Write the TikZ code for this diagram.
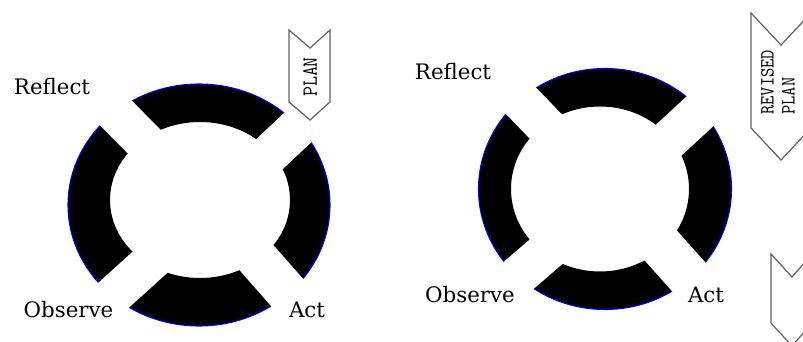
\documentclass[tikz,border=0pt]{standalone}
\usepackage{fontspec}
\setmainfont{DejaVu Serif}
\usetikzlibrary{positioning}
\newcommand\chevtext[1]{\scalebox{1}[1.12]{#1}}

\begin{document}
\begin{tikzpicture}[x=0.75pt,y=-0.75pt,
  gap/.style={white,line width=0.75*#1},
  lbl/.style={inner sep=0,anchor=base,font=\fontsize{16}{18}\selectfont},
  chev/.style={draw=black!62,fill=white,line width=0.9pt},
  chevtxt/.style={inner sep=0,rotate=90,font=\ttfamily\fontsize{14.5}{14}\selectfont}]
\useasboundingbox (0,0) rectangle (803,342);
% first cycle
\coordinate (outL) at (199,205);
\coordinate (inL) at (200,200);
\fill[even odd rule] (outL) ellipse[x radius=131,y radius=121] (inL) ellipse[x radius=90,y radius=78];
\draw[blue,line width=0.8] (outL) ellipse[x radius=131,y radius=121];
% second cycle
\coordinate (outR) at (605,189);
\coordinate (inR) at (600,189);
\fill[even odd rule] (outR) ellipse[x radius=126.5,y radius=120.5] (inR) ellipse[x radius=89,y radius=82.5];
\draw[blue,line width=0.8] (outR) ellipse[x radius=126.5,y radius=120.5];
% cuts between the four arcs
\foreach \ax/\ay/\bx/\by/\w in {172.3/170.1/106.2/103.2/40, 239.6/182.1/308.3/117.7/40,
    173.8/240.7/103.6/304.3/39, 234.6/232.7/296.6/303.3/42,
    573.6/155.3/507.4/86.7/40, 640.3/166.3/710.3/101.8/40,
    576.1/225.9/504.8/287.3/40, 635.9/217.7/697.8/287/44}
  \draw[gap=\w] (\ax,\ay) -- (\bx,\by);

\node[lbl] (reflectL) at (52,95) {Reflect};
\node[lbl] (observeL) at (68.5,317) {Observe};
\node[lbl] (actL) at (307,317) {Act};
\node[lbl] (reflectR) at (453,80) {Reflect};
\node[lbl] (observeR) at (470,302) {Observe};
\node[lbl] (actR) at (706,302) {Act};

% plan arrows
\draw[chev] (289,30) --++(21,18) --++(20,-18) --++(0,72) --++(-20,18) --++(-21,-18) -- cycle;
\node[chevtxt] (plan) at (310,77) {\chevtext{PLAN}};
\draw[chev] (751,13) --++(30,32) --++(30,-32) --++(0,115) --++(-30,32) --++(-30,-32) -- cycle;
\node[chevtxt,anchor=west,font=\ttfamily\fontsize{13.5}{14}\selectfont] (revised) at (780,115)
  {\chevtext{\begin{tabular}{@{}l@{}}REVISED\\PLAN\end{tabular}}};
\draw[chev] (771,254) --++(21,23) --++(20,-23) --++(0,69) --++(-20,23) --++(-21,-23) -- cycle;
\end{tikzpicture}
\end{document}
